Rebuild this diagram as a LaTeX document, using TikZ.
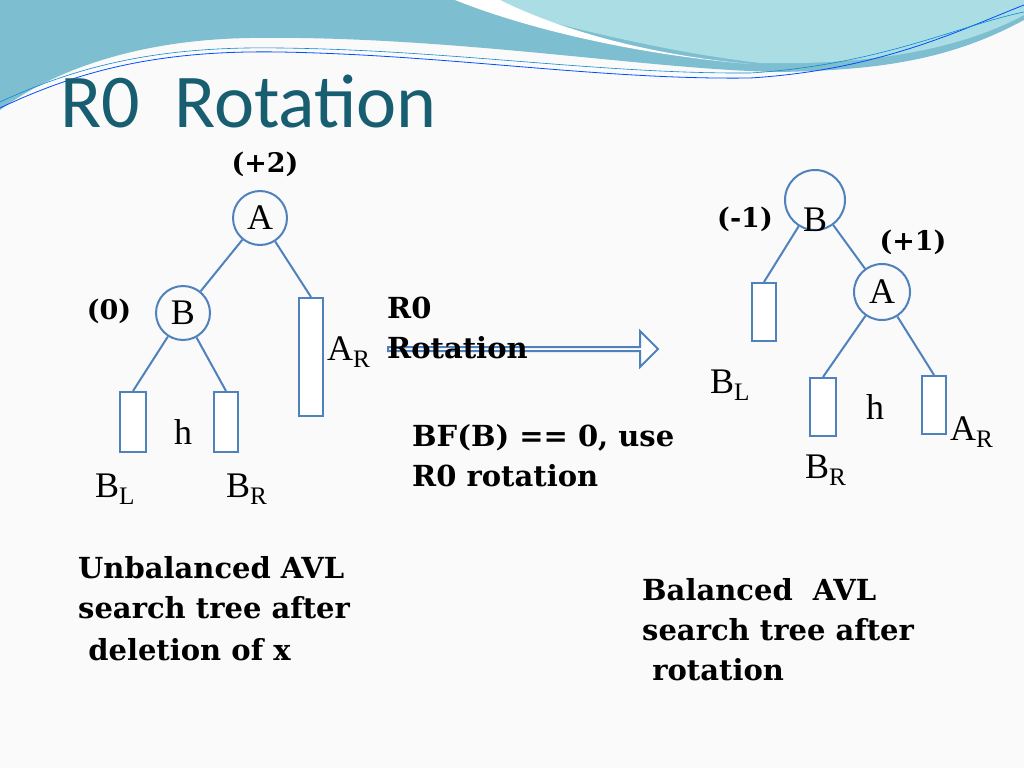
\documentclass[tikz,border=0pt]{standalone}
\usepackage{fontspec}
\setmainfont{DejaVu Serif}
\newfontfamily\ttl{Carlito}
\newfontfamily\lt{Liberation Serif}
\usetikzlibrary{shapes.arrows}
\definecolor{edge}{RGB}{79,129,189}
\definecolor{ttlc}{RGB}{23,94,112}
\definecolor{band}{RGB}{125,190,208}
\definecolor{aqua}{RGB}{170,222,228}
\begin{document}
\begin{tikzpicture}[x=1pt,y=-1pt,
  circ/.style={draw=edge,line width=2pt,circle,minimum size=54pt,inner sep=0pt},
  box/.style={draw=edge,line width=2pt,fill=white},
  e/.style={edge,line width=2pt},
  lt/.style={font=\lt\fontsize{36}{36}\selectfont,inner sep=0pt},
  bf/.style={font=\bfseries\fontsize{29}{29}\selectfont,inner sep=0pt,anchor=base west},
  bfc/.style={font=\bfseries\fontsize{27}{27}\selectfont,inner sep=0pt,anchor=base}]
\useasboundingbox (0,0) rectangle (1024,768);
\fill[white!96!gray] (0,0) rectangle (1024,768);
% header
\fill[band] (0,0) -- (1024,0) -- (1024,20) .. controls (950,60) and (880,70) .. (780,72)
  .. controls (650,70) and (450,35) .. (250,38) .. controls (120,40) and (40,80) .. (0,110) -- cycle;
\fill[aqua] (470,0) -- (1024,0) -- (1024,15) .. controls (950,55) and (850,65) .. (760,63)
  .. controls (650,50) and (540,20) .. (470,0) -- cycle;
\fill[white] (455,0) -- (500,0) .. controls (560,30) and (650,55) .. (750,64)
  .. controls (640,55) and (530,30) .. (455,0) -- cycle;
\draw[blue!70!cyan,line width=0.8pt] (0,108) .. controls (80,70) and (160,50) .. (280,52)
  .. controls (450,55) and (600,80) .. (750,78) .. controls (880,70) and (960,30) .. (1024,5);
\draw[cyan!70!blue,line width=0.6pt] (0,102) .. controls (80,65) and (160,46) .. (280,48)
  .. controls (450,50) and (600,74) .. (750,73) .. controls (880,65) and (960,25) .. (1024,12);
\node[anchor=base west,text=ttlc,font=\ttl\fontsize{76}{76}\selectfont,inner sep=0pt] (title) at (60,127) {R0\ \ Rotation};
% left tree
\node[circ] (A) at (260,218) {}; \node[lt] at (A) {A};
\node[circ] (B) at (183,313) {}; \node[lt] at (B) {B};
\node[box,minimum width=24pt,minimum height=118pt,inner sep=0pt] (AR) at (311,357) {};
\node[box,minimum width=26pt,minimum height=60pt,inner sep=0pt] (BL) at (133,422) {};
\node[box,minimum width=24pt,minimum height=60pt,inner sep=0pt] (BR) at (226,422) {};
\draw[e] (A) -- (B); \draw[e] (A) -- (AR.north); \draw[e] (B) -- (BL.north); \draw[e] (B) -- (BR.north);
\node[lt,anchor=base] (h1) at (183,444) {h};
\node[lt,anchor=base west] (l1) at (95,497) {B\textsubscript{L}};
\node[lt,anchor=base west] (l2) at (226,497) {B\textsubscript{R}};
\node[lt,anchor=base west] (l3) at (327,360) {A\textsubscript{R}};
\node[bfc] (p2) at (265,172) {(+2)};
\node[bfc] (p0) at (109,319) {(0)};
% arrow
\node[single arrow,draw=edge,line width=2pt,fill=white,minimum height=270pt,minimum width=36pt,single arrow head extend=8pt,inner sep=0pt] (arr) at (522,349) {};
\node[bf] (r0a) at (387,318) {R0};
\node[bf] (r0b) at (387,358) {Rotation};
\node[bf] (bfa) at (412,446) {BF(B) == 0, use};
\node[bf] (bfb) at (412,486) {R0 rotation};
% right tree
\node[circ,minimum size=60pt] (B2) at (815,200) {}; \node[lt] at (815,220) {B};
\node[circ,minimum size=56pt] (A2) at (882,292) {}; \node[lt] at (A2) {A};
\node[box,minimum width=24pt,minimum height=58pt,inner sep=0pt] (BL2) at (764,312) {};
\node[box,minimum width=26pt,minimum height=58pt,inner sep=0pt] (BR2) at (823,407) {};
\node[box,minimum width=24pt,minimum height=58pt,inner sep=0pt] (AR2) at (934,405) {};
\draw[e] (B2) -- (BL2.north); \draw[e] (B2) -- (A2); \draw[e] (A2) -- (BR2.north); \draw[e] (A2) -- (AR2.north);
\node[bfc] (m1) at (745,227) {(-1)};
\node[bfc] (p1) at (913,250) {(+1)};
\node[lt,anchor=base west] (l4) at (710,393) {B\textsubscript{L}};
\node[lt,anchor=base] (h2) at (875,419) {h};
\node[lt,anchor=base west] (l5) at (950,440) {A\textsubscript{R}};
\node[lt,anchor=base west] (l6) at (805,478) {B\textsubscript{R}};
% captions
\node[bf] (c1a) at (78,578) {Unbalanced AVL};
\node[bf] (c1b) at (78,618) {search tree after};
\node[bf] (c1c) at (78,660) {\ deletion of x};
\node[bf] (c2a) at (642,600) {Balanced\ \ AVL};
\node[bf] (c2b) at (642,640) {search tree after};
\node[bf] (c2c) at (642,680) {\ rotation};
\end{tikzpicture}
\end{document}
